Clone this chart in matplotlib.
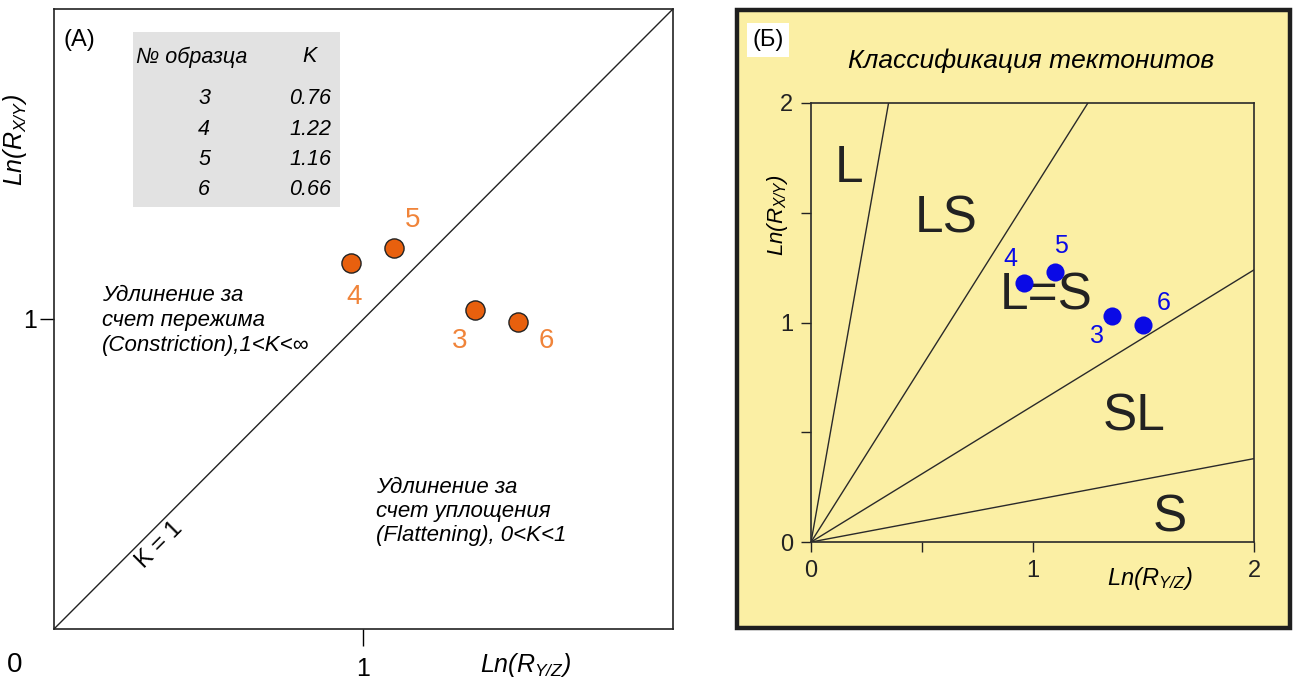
import matplotlib.pyplot as plt
from matplotlib.patches import Rectangle

plt.rcParams['font.family'] = ['Liberation Sans', 'DejaVu Sans']
plt.rcParams['mathtext.fontset'] = 'custom'
plt.rcParams['mathtext.rm'] = 'Liberation Sans:italic'
plt.rcParams['mathtext.it'] = 'Liberation Sans:italic'

# --- data -----------------------------------------------------------------
samples = ['3', '4', '5', '6']
ln_ryz = [1.36, 0.96, 1.10, 1.50]
ln_rxy = [1.03, 1.18, 1.23, 0.99]
k_values = ['0.76', '1.22', '1.16', '0.66']

# label positions (panel A / panel B), same order as samples
lab_a_x = [1.31, 0.97, 1.16, 1.59]
lab_a_y = [0.93, 1.07, 1.32, 0.93]
lab_b_x = [1.29, 0.90, 1.13, 1.59]
lab_b_y = [0.94, 1.29, 1.35, 1.09]

# classification boundaries in panel B: end points of rays from origin
ray_x = [0.35, 1.25, 2.0, 2.0]
ray_y = [2.0, 2.0, 1.24, 0.38]
classes = ['L', 'LS', 'L=S', 'SL', 'S']
class_x = [0.17, 0.61, 1.06, 1.46, 1.62]
class_y = [1.70, 1.47, 1.12, 0.57, 0.11]

orange_fill = '#E8600E'
orange_text = '#F0843A'
blue = '#0A0AE6'
yellow = '#FBEFA4'

fig = plt.figure(figsize=(13.01, 6.83), dpi=100)

# ---------------------------------------------------------------------------
# Panel A
# ---------------------------------------------------------------------------
ax = fig.add_axes([0.0415, 0.0791, 0.4758, 0.9078])
ax.set_xlim(0, 2)
ax.set_ylim(0, 2)
ax.plot([0, 2], [0, 2], color='#222222', lw=1.0)
ax.scatter(ln_ryz, ln_rxy, s=190, color=orange_fill, edgecolor='#222222',
           lw=1.0, zorder=3)
for s, x, y in zip(samples, lab_a_x, lab_a_y):
    ax.text(x, y, s, color=orange_text, fontsize=20, ha='center', va='center')

ax.set_xticks([1])
ax.set_yticks([1])
ax.set_xticklabels(['1'], fontsize=18)
ax.set_yticklabels(['1'], fontsize=18)
ax.tick_params(axis='x', length=12, width=1, pad=8)
ax.tick_params(axis='y', length=10, width=1, pad=2)
for sp in ax.spines.values():
    sp.set_linewidth(1.2)
    sp.set_color('#222222')

# sample table
ax.add_patch(Rectangle((0.255, 1.36), 0.67, 0.565, color='#E2E2E2', lw=0, zorder=0))
ax.text(0.445, 1.845, '№ образца', style='italic', fontsize=15.5, ha='center', va='center')
ax.text(0.825, 1.845, 'K', style='italic', fontsize=15.5, ha='center', va='center')
for i, (s, k) in enumerate(zip(samples, k_values)):
    yy = 1.71 - i * 0.098
    ax.text(0.505, yy, s, style='italic', fontsize=15.5, ha='right', va='center')
    ax.text(0.895, yy, k, style='italic', fontsize=15.5, ha='right', va='center')

ax.text(0.03, 1.90, '(A)', fontsize=17, ha='left', va='center')
ax.text(0.155, 1.11, 'Удлинение за\nсчет пережима\n(Constriction),1<K<∞',
        style='italic', fontsize=16, ha='left', va='top', linespacing=1.25)
ax.text(1.04, 0.49, 'Удлинение за\nсчет уплощения\n(Flattening), 0<K<1',
        style='italic', fontsize=16, ha='left', va='top', linespacing=1.2)
ax.text(0.34, 0.27, 'K = 1', rotation=45, fontsize=17, ha='center', va='center')

fig.text(15 / 1301, 1 - 665 / 683, '0', fontsize=20, ha='center', va='center')
fig.text(525 / 1301, 1 - 665 / 683, r'$Ln(R_{Y/Z})$', fontsize=18,
         ha='center', va='center')
fig.text(15 / 1301, 1 - 140 / 683, r'$Ln(R_{X/Y})$', fontsize=18,
         ha='center', va='center', rotation=90)

# ---------------------------------------------------------------------------
# Panel B
# ---------------------------------------------------------------------------
fig.patches.append(Rectangle((0.5665, 0.0805), 0.425, 0.9048, transform=fig.transFigure,
                             facecolor=yellow, edgecolor='#1E1E1E', lw=3.2, zorder=-10))

bx = fig.add_axes([0.6234, 0.2064, 0.3405, 0.6428])
bx.set_facecolor(yellow)
bx.set_xlim(0, 2)
bx.set_ylim(0, 2)
for xe, ye in zip(ray_x, ray_y):
    bx.plot([0, xe], [0, ye], color='#2A2A2A', lw=1.0)
bx.scatter(ln_ryz, ln_rxy, s=170, color=blue, lw=0, zorder=3)
for s, x, y in zip(samples, lab_b_x, lab_b_y):
    bx.text(x, y, s, color=blue, fontsize=18, ha='center', va='center', zorder=4)
for c, x, y in zip(classes, class_x, class_y):
    bx.text(x, y, c, color='#222222', fontsize=37, ha='center', va='center', zorder=2)

bx.set_xticks([0, 0.5, 1, 2])
bx.set_xticklabels(['0', '', '1', '2'], fontsize=17)
bx.set_yticks([0, 0.5, 1, 1.5, 2])
bx.set_yticklabels(['0', '', '1', '', '2'], fontsize=17)
bx.tick_params(length=7, width=1, pad=6, colors='#222222')
for sp in bx.spines.values():
    sp.set_linewidth(1.2)
    sp.set_color('#2A2A2A')

fig.text(1150 / 1301, 1 - 578 / 683, r'$Ln(R_{Y/Z})$', fontsize=17,
         ha='center', va='center')
fig.text(778 / 1301, 1 - 215 / 683, r'$Ln(R_{X/Y})$', fontsize=16,
         ha='center', va='center', rotation=90)
fig.text(1031 / 1301, 1 - 61 / 683, 'Классификация тектонитов', style='italic',
         fontsize=19, ha='center', va='center')
fig.text(768 / 1301, 1 - 40 / 683, '(Б)', fontsize=17, ha='center', va='center',
         bbox=dict(facecolor='white', edgecolor='none', pad=4))

fig.savefig('out.png', dpi=100)
